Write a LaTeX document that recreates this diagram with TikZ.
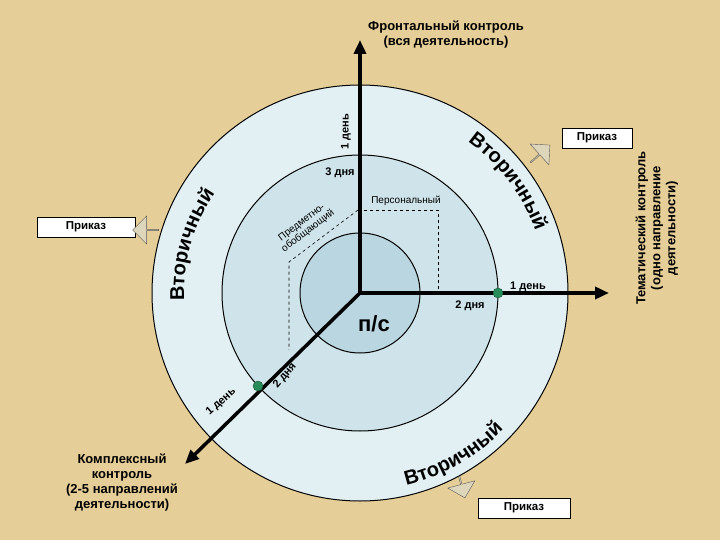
\documentclass[tikz,border=0pt]{standalone}
\usepackage{fontspec}
\setmainfont{Liberation Sans}
\usetikzlibrary{decorations.text,shapes.arrows,arrows.meta}
\definecolor{bg}{RGB}{230,206,152}
\definecolor{ring1}{RGB}{226,240,244}
\definecolor{ring2}{RGB}{206,228,234}
\definecolor{ring3}{RGB}{186,214,224}
\definecolor{dotg}{RGB}{40,140,90}
\definecolor{arrf}{RGB}{222,214,186}
\tikzset{
 axis/.style={line width=3.5pt,-{Triangle[length=14pt,width=12pt]}},
 circ/.style={draw=black,line width=1pt},
 dashln/.style={dashed,line width=0.6pt},
 lbl/.style={font=\bfseries\fontsize{11}{12}\selectfont,inner sep=1pt},
 biglbl/.style={font=\bfseries\fontsize{13}{15}\selectfont,inner sep=1pt},
 small/.style={font=\fontsize{10}{10.5}\selectfont,inner sep=1pt},
 prikaz/.style={draw,fill=white,line width=0.6pt,minimum width=70pt,minimum height=20pt,font=\bfseries\fontsize{11.5}{13}\selectfont},
 barr/.style={single arrow,draw=gray!70!black,fill=arrf,minimum width=28pt,single arrow head extend=4pt,minimum height=26pt,inner sep=0pt},
 gdot/.style={circle,fill=dotg,draw=dotg!60!black,minimum size=10pt,inner sep=0pt},
}
\begin{document}
\begin{tikzpicture}[x=1pt,y=-1pt]
\fill[bg] (0,0) rectangle (720,540);
\useasboundingbox (0,0) rectangle (720,540);
\coordinate (c) at (360,293);
\filldraw[circ,fill=ring1] (c) circle (208);
\filldraw[circ,fill=ring2] (c) circle (138);
\filldraw[circ,fill=ring3] (c) circle (60);
% dashed
\draw[dashln] (358,210) -- (438,210) -- (438,292);
\draw[dashln] (358,210) -- (289,262) -- (289,350);
% axes
\coordinate (top) at (360,40);
\coordinate (rgt) at (609,293);
\coordinate (dl) at (185,464);
\draw[axis] (c) -- (top);
\draw[axis] (c) -- (rgt);
\draw[axis] (c) -- (dl);
\node[gdot] (g1) at (258,386) {};
\node[gdot] (g2) at (498,293) {};
% curved texts
\begin{scope}[shift={(c)},x=1pt,y=1pt]
\path[decorate,decoration={text along path,text align=center,text={|\bfseries\fontsize{20}{22}\selectfont|Вторичный}}] (60:186) arc (60:14:186);
\path[decorate,decoration={text along path,text align=center,text={|\bfseries\fontsize{20}{22}\selectfont|Вторичный}}] (194:176) arc (194:134:176);
\path[decorate,decoration={text along path,text align=center,text={|\bfseries\fontsize{20}{22}\selectfont|Вторичный}}] (-86:198) arc (-86:-34:198);
\end{scope}
% labels
\node[biglbl,align=center] (front) at (446,35) {Фронтальный контроль\\(вся деятельность)};
\node[biglbl,align=center,rotate=90] (them) at (657,228) {Тематический контроль\\(одно направление\\деятельности)};
\node[biglbl,align=center] (compl) at (122,483) {Комплексный\\контроль\\(2-5 направлений\\деятельности)};
\node[lbl,rotate=90] (d1t) at (346,132) {1 день};
\node[lbl] (d3) at (340,173) {3 дня};
\node[small] (pers) at (406,201) {Персональный};
\node[small,align=center,rotate=37] (pred) at (305,227) {Предметно-\\обобщающий};
\node[lbl] (d1r) at (528,287) {1 день};
\node[lbl] (d2r) at (470,306) {2 дня};
\node[font=\bfseries\fontsize{22}{24}\selectfont] (ps) at (374,324) {п/с};
\node[lbl,rotate=50] (d2d) at (285,376) {2 дня};
\node[lbl,rotate=42] (d1d) at (221,402) {1 день};
% prikaz
\node[prikaz] (p1) at (597,138) {Приказ};
\node[prikaz,minimum width=98pt] (p2) at (86,227) {Приказ};
\node[prikaz,minimum width=92pt] (p3) at (524,508) {Приказ};
\node[barr,rotate=42] (a1) at (540,154) {};
\node[barr,rotate=180] (a2) at (146,230) {};
\node[barr,rotate=-75,minimum height=22pt] (a3) at (462,487) {};
\end{tikzpicture}
\end{document}
